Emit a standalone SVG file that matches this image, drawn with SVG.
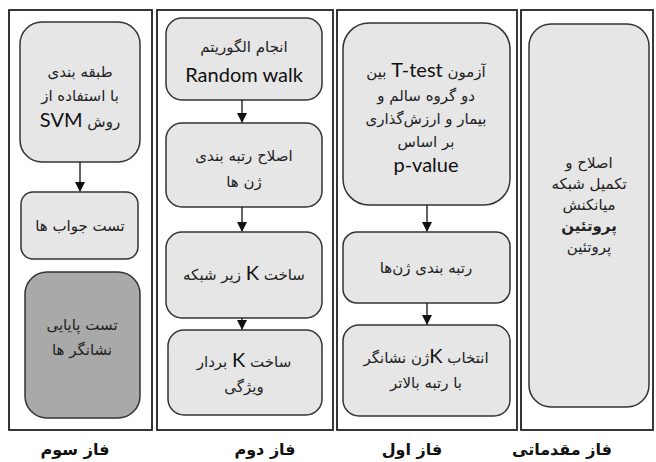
<svg xmlns="http://www.w3.org/2000/svg" width="656" height="462" viewBox="0 0 656 462">
<style>
.frame{fill:#fff;stroke:#222;stroke-width:1.8}
.node{fill:#e6e6e6;stroke:#333;stroke-width:1.5}
.dark{fill:#a9a9a9;stroke:#333;stroke-width:1.5}
.t{font-family:"DejaVu Sans",sans-serif;font-size:15px;fill:#222;text-anchor:middle;direction:rtl}
.lat{font-family:Lato,"Open Sans",sans-serif;font-size:20px;fill:#111}
.lbl{font-family:"DejaVu Sans",sans-serif;font-size:16px;font-weight:bold;fill:#111;text-anchor:middle;direction:rtl}
.conn{stroke:#111;stroke-width:1.3;fill:none;marker-end:url(#ah)}
</style>
<defs>
<marker id="ah" markerWidth="10" markerHeight="10" refX="9" refY="5" orient="auto" markerUnits="userSpaceOnUse">
<path d="M0,0 L10,5 L0,10 Z" fill="#111"/>
</marker>
</defs>
<rect width="656" height="462" fill="#fff"/>
<g id="frames">
<rect class="frame" x="9" y="10" width="143" height="420"/>
<rect class="frame" x="157" y="10" width="176" height="420"/>
<rect class="frame" x="337" y="10" width="180" height="420"/>
<rect class="frame" x="521" y="10" width="132" height="420"/>
</g>
<g id="phase3-n1">
<rect class="node" x="20" y="22" width="120" height="140" rx="22"/>
<text class="t" x="80" y="77">طبقه بندی</text>
<text class="t" x="80" y="101">با استفاده از</text>
<text class="t" x="80" y="127">روش  <tspan class="lat" font-size="21">SVM</tspan></text>
</g>
<g id="phase3-n2">
<rect class="node" x="21" y="192" width="117" height="67" rx="12"/>
<text class="t" x="80" y="231">تست جواب ها</text>
</g>
<g id="phase3-n3">
<rect class="dark" x="25" y="272" width="115" height="146" rx="22"/>
<text class="t" x="82" y="330">تست پایایی</text>
<text class="t" x="82" y="355">نشانگر ها</text>
</g>
<g id="phase2-n1">
<rect class="node" x="166" y="18" width="156" height="82" rx="16"/>
<text class="t" x="244" y="52">انجام الگوریتم</text>
<text class="lat" x="244" y="82" text-anchor="middle" font-size="22">Random walk</text>
</g>
<g id="phase2-n2">
<rect class="node" x="166" y="123" width="156" height="84" rx="16"/>
<text class="t" x="244" y="161">اصلاح رتبه بندی</text>
<text class="t" x="244" y="187">ژن ها</text>
</g>
<g id="phase2-n3">
<rect class="node" x="166" y="232" width="156" height="86" rx="16"/>
<text class="t" x="244" y="280">ساخت <tspan class="lat">K</tspan> زیر شبکه</text>
</g>
<g id="phase2-n4">
<rect class="node" x="168" y="330" width="154" height="85" rx="16"/>
<text class="t" x="244" y="367">ساخت <tspan class="lat">K</tspan> بردار</text>
<text class="t" x="244" y="392">ویژگی</text>
</g>
<g id="phase1-n1">
<rect class="node" x="343" y="23" width="167" height="182" rx="26"/>
<text class="t" x="426" y="77">آزمون <tspan class="lat" font-size="22">T-test</tspan> بین</text>
<text class="t" x="426" y="101">دو گروه سالم و</text>
<text class="t" x="426" y="124">بیمار و ارزش‌گذاری</text>
<text class="t" x="426" y="147">بر اساس</text>
<text class="lat" x="426" y="172" text-anchor="middle" font-size="22">p-value</text>
</g>
<g id="phase1-n2">
<rect class="node" x="343" y="232" width="167" height="71" rx="14"/>
<text class="t" x="426" y="273">رتبه بندی ژن‌ها</text>
</g>
<g id="phase1-n3">
<rect class="node" x="343" y="325" width="167" height="91" rx="16"/>
<text class="t" x="426" y="363">انتخاب <tspan class="lat">K</tspan>ژن نشانگر</text>
<text class="t" x="426" y="388">با رتبه بالاتر</text>
</g>
<g id="phase0-n1">
<rect class="node" x="529" y="24" width="120" height="383" rx="22"/>
<text class="t" x="589" y="168">اصلاح و</text>
<text class="t" x="589" y="189">تکمیل شبکه</text>
<text class="t" x="589" y="210">میانکنش</text>
<text class="t" x="589" y="231" font-weight="bold">پروتئین</text>
<text class="t" x="589" y="252">پروتئین</text>
</g>
<g id="connectors">
<line class="conn" x1="80" y1="162" x2="80" y2="191"/>
<line class="conn" x1="242" y1="100" x2="242" y2="122"/>
<line class="conn" x1="242" y1="207" x2="242" y2="231"/>
<line class="conn" x1="242" y1="318" x2="242" y2="329"/>
<line class="conn" x1="427" y1="205" x2="427" y2="231"/>
<line class="conn" x1="427" y1="303" x2="427" y2="324"/>
</g>
<g id="labels">
<text class="lbl" x="75" y="455">فاز سوم</text>
<text class="lbl" x="265" y="455">فاز دوم</text>
<text class="lbl" x="412" y="455">فاز اول</text>
<text class="lbl" x="562" y="455">فاز مقدماتی</text>
</g>
</svg>
